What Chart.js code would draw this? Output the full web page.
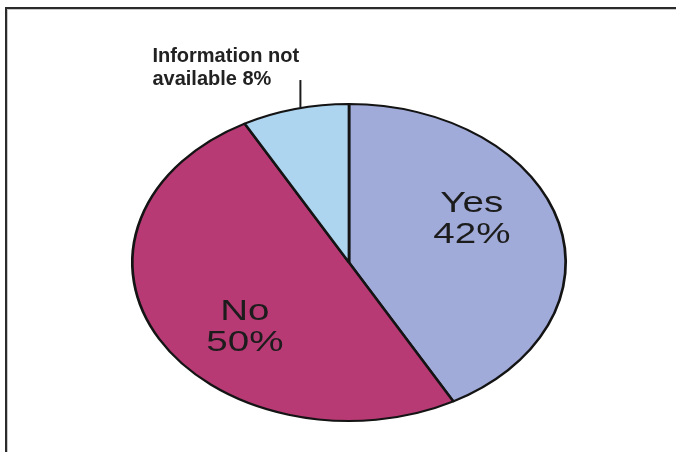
<!DOCTYPE html>
<html>
<head>
<meta charset="utf-8">
<script src="https://cdn.jsdelivr.net/npm/chart.js@4/dist/chart.umd.min.js"></script>
<style>
  html, body { margin: 0; padding: 0; background: #fff; }
  #wrap { position: relative; width: 676px; height: 452px; overflow: hidden; }
  #frame {
    position: absolute; left: 5px; top: 7px; width: 700px; height: 460px;
    border-top: 2px solid #2b2b2b; border-left: 2px solid #2b2b2b;
    box-shadow: inset 1px 1px 0 #c8c8c8;
  }
  canvas { position: absolute; left: 0; top: 0; }
</style>
</head>
<body>
<div id="wrap">
  <canvas id="grafico" width="676" height="452"></canvas>
  <div id="frame"></div>
</div>
<script>
// dados
const categorias = ['Yes', 'No', 'Information not available'];
const valores = [42, 50, 8];
const rotulos = [['Yes', '42%'], ['No', '50%'], ['Information not', 'available 8%']];
const cores = ['#a1abd9', '#b73a74', '#aed5ef'];

const ESTICA = 1.367;  // pie is drawn as an ellipse (stretched horizontally)

// stretch the arcs horizontally around the pie centre
const elipse = {
  id: 'elipse',
  beforeDatasetsDraw(chart) {
    const arc = chart.getDatasetMeta(0).data[0];
    const ctx = chart.ctx;
    ctx.save();
    ctx.translate(arc.x, 0);
    ctx.scale(ESTICA, 1);
    ctx.translate(-arc.x, 0);
  },
  afterDatasetsDraw(chart) {
    chart.ctx.restore();
  }
};

// slice labels + leader line for the small slice
const rotulosPlugin = {
  id: 'rotulos',
  afterDraw(chart) {
    const ctx = chart.ctx;
    const arcs = chart.getDatasetMeta(0).data;
    ctx.save();
    ctx.fillStyle = '#1c1c1c';

    // inside labels (Yes, No)
    [0, 1].forEach(i => {
      const a = arcs[i];
      const ang = (a.startAngle + a.endAngle) / 2 - 0.2;
      const r = a.outerRadius * 0.63;
      const x = a.x + ESTICA * r * Math.cos(ang);
      const y = a.y + r * Math.sin(ang);
      ctx.save();
      ctx.translate(x, y);
      ctx.scale(1.33, 1);
      ctx.font = '29px "Liberation Sans", Arial, sans-serif';
      ctx.textAlign = 'center';
      ctx.textBaseline = 'middle';
      ctx.fillText(rotulos[i][0], 0, -15);
      ctx.fillText(rotulos[i][1], 0, 16);
      ctx.restore();
    });

    // outside label for "Information not available"
    const a = arcs[2];
    const ang = a.startAngle + 0.55 * (a.endAngle - a.startAngle);
    const lx = a.x + ESTICA * a.outerRadius * Math.cos(ang);
    const ly = a.y + a.outerRadius * Math.sin(ang);
    const topo = ly - 28;
    ctx.strokeStyle = '#1c1c1c';
    ctx.lineWidth = 2;
    ctx.beginPath();
    ctx.moveTo(lx, ly);
    ctx.lineTo(lx, topo);
    ctx.stroke();

    ctx.font = 'bold 20px "Liberation Sans", Arial, sans-serif';
    ctx.textAlign = 'left';
    ctx.textBaseline = 'alphabetic';
    ctx.fillStyle = '#222';
    ctx.fillText(rotulos[2][0], lx - 148, topo - 18);
    ctx.fillText(rotulos[2][1], lx - 148, topo + 5);
    ctx.restore();
  }
};

const ctxGrafico = document.getElementById('grafico').getContext('2d');
new Chart(ctxGrafico, {
  type: 'pie',
  data: {
    labels: categorias,
    datasets: [{
      data: valores,
      backgroundColor: cores,
      borderColor: '#141414',
      borderWidth: 2
    }]
  },
  options: {
    responsive: false,
    animation: false,
    layout: { padding: { top: 103, bottom: 30, left: 22, right: 0 } },
    plugins: {
      legend: { display: false },
      tooltip: { enabled: false }
    }
  },
  plugins: [elipse, rotulosPlugin]
});
</script>
</body>
</html>
